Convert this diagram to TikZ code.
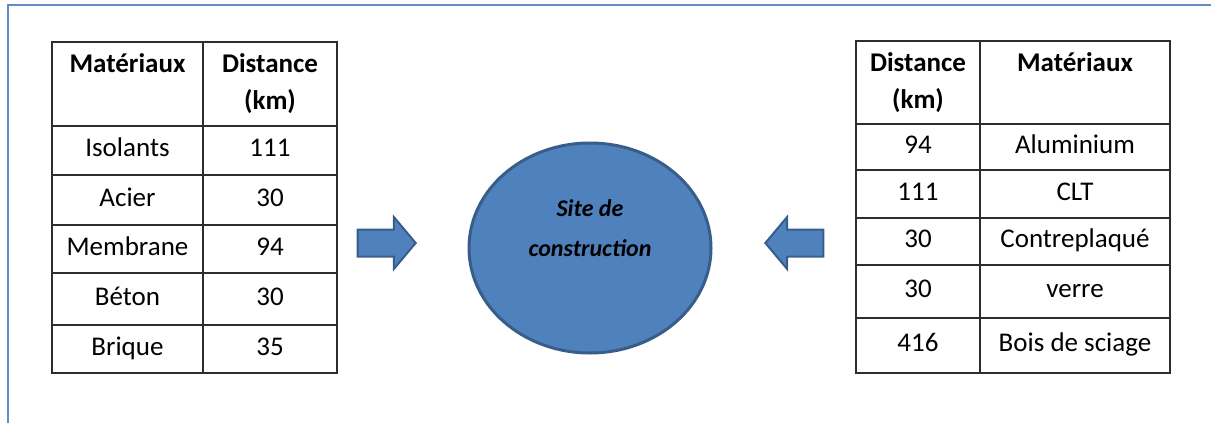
\documentclass[tikz,border=0pt]{standalone}
\usepackage{fontspec}
\setmainfont{Carlito}
\usetikzlibrary{positioning,shapes.geometric,shapes.arrows}

\definecolor{siteblue}{RGB}{79,129,189}
\definecolor{siteedge}{RGB}{56,93,138}
\definecolor{framebl}{RGB}{98,140,200}
\definecolor{rulegray}{RGB}{45,45,45}

\tikzset{
  cell/.style={draw=rulegray, line width=1.5pt, outer sep=0pt, inner sep=0pt,
    align=center, text height=18pt, text depth=6pt,
    font=\fontsize{27}{37}\selectfont},
  head/.style={draw=rulegray, line width=1.5pt, outer sep=0pt, inner sep=0pt,
    align=center, font=\fontsize{27}{37}\selectfont\bfseries},
  site/.style={ellipse, draw=siteedge, line width=3pt, fill=siteblue,
    minimum width=242pt, minimum height=210pt, inner sep=0pt, align=center,
    font=\fontsize{24}{40}\selectfont\bfseries\itshape},
  flow/.style={single arrow, draw=siteedge, fill=siteblue, line width=2pt,
    minimum height=58pt, inner xsep=0pt, inner ysep=12.5pt,
    single arrow head extend=12.5pt, single arrow tip angle=100},
  frame/.style={draw=framebl, line width=2pt}
}

\begin{document}
\begin{tikzpicture}[x=1pt, y=-1pt]

  \useasboundingbox (0,0) rectangle (1211,423);
  \draw[frame] (8,423) |- (1211,5);

  % Define nodes: left table
  \node[head, anchor=north west, minimum width=151pt, minimum height=84pt] (lmat) at (52,42) {Matériaux\\\phantom{(km)}};
  \node[head, right=0pt of lmat, minimum width=134pt, minimum height=84pt] (ldist) {Distance\\(km)};
  \node[cell, below=0pt of lmat, minimum width=151pt, minimum height=49pt] (la) {Isolants};
  \node[cell, below=0pt of ldist, minimum width=134pt, minimum height=49pt] (lda) {111};
  \node[cell, below=0pt of la, minimum width=151pt, minimum height=50pt] (lb) {Acier};
  \node[cell, below=0pt of lda, minimum width=134pt, minimum height=50pt] (ldb) {30};
  \node[cell, below=0pt of lb, minimum width=151pt, minimum height=48pt] (lc) {Membrane};
  \node[cell, below=0pt of ldb, minimum width=134pt, minimum height=48pt] (ldc) {94};
  \node[cell, below=0pt of lc, minimum width=151pt, minimum height=52pt] (ld) {Béton};
  \node[cell, below=0pt of ldc, minimum width=134pt, minimum height=52pt] (ldd) {30};
  \node[cell, below=0pt of ld, minimum width=151pt, minimum height=48pt] (le) {Brique};
  \node[cell, below=0pt of ldd, minimum width=134pt, minimum height=48pt] (lde) {35};

  % Define nodes: right table
  \node[head, anchor=north west, minimum width=124pt, minimum height=83pt] (rdist) at (856,41) {Distance\\(km)};
  \node[head, right=0pt of rdist, minimum width=190pt, minimum height=83pt] (rmat) {Matériaux\\\phantom{(km)}};
  \node[cell, below=0pt of rdist, minimum width=124pt, minimum height=46pt] (rda) {94};
  \node[cell, below=0pt of rmat, minimum width=190pt, minimum height=46pt] (ra) {Aluminium};
  \node[cell, below=0pt of rda, minimum width=124pt, minimum height=48pt] (rdb) {111};
  \node[cell, below=0pt of ra, minimum width=190pt, minimum height=48pt] (rb) {CLT};
  \node[cell, below=0pt of rdb, minimum width=124pt, minimum height=47pt] (rdc) {30};
  \node[cell, below=0pt of rb, minimum width=190pt, minimum height=47pt] (rc) {Contreplaqué};
  \node[cell, below=0pt of rdc, minimum width=124pt, minimum height=53pt] (rdd) {30};
  \node[cell, below=0pt of rc, minimum width=190pt, minimum height=53pt] (rd) {verre};
  \node[cell, below=0pt of rdd, minimum width=124pt, minimum height=55pt] (rde) {416};
  \node[cell, below=0pt of rd, minimum width=190pt, minimum height=55pt] (re) {Bois de sciage};

  % Construction site and the flows into it
  \node[site] (site) at (590,248) {Site de\\construction\\\phantom{x}};
  \node[flow] (inleft) at (381,243) {};
  \node[flow, shape border rotate=180] (inright) at (800,243) {};

\end{tikzpicture}
\end{document}
